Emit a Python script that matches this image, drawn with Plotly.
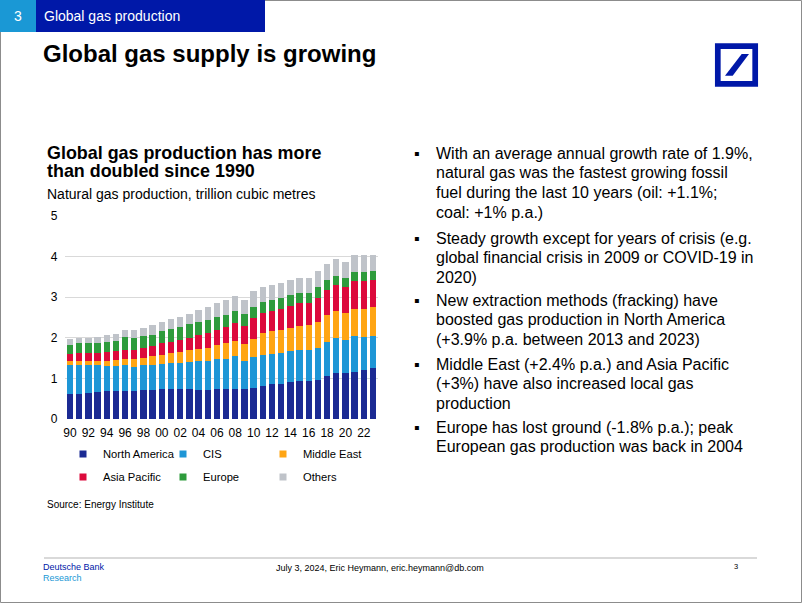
import plotly.graph_objects as go

W, H = 802, 603
FONT = "Arial, 'Liberation Sans', sans-serif"

years = list(range(1990, 2024))
tick_years = list(range(1990, 2023, 2))
tick_labels = [f"{y % 100:02d}" for y in tick_years]

north_america = [0.61, 0.61, 0.63, 0.66, 0.68, 0.68, 0.70, 0.70, 0.71, 0.71,
                 0.73, 0.75, 0.73, 0.73, 0.72, 0.71, 0.73, 0.75, 0.75, 0.75,
                 0.77, 0.82, 0.86, 0.87, 0.92, 0.94, 0.93, 0.96, 1.06, 1.14,
                 1.13, 1.15, 1.20, 1.25]
cis = [0.72, 0.72, 0.69, 0.66, 0.63, 0.63, 0.63, 0.59, 0.61, 0.63,
       0.63, 0.63, 0.66, 0.68, 0.70, 0.72, 0.74, 0.73, 0.80, 0.68,
       0.75, 0.75, 0.74, 0.76, 0.75, 0.76, 0.77, 0.80, 0.84, 0.86,
       0.81, 0.90, 0.82, 0.79]
middle_east = [0.10, 0.10, 0.11, 0.12, 0.13, 0.14, 0.15, 0.18, 0.18, 0.20,
               0.22, 0.24, 0.26, 0.28, 0.30, 0.33, 0.35, 0.38, 0.38, 0.41,
               0.46, 0.55, 0.56, 0.57, 0.58, 0.60, 0.61, 0.63, 0.65, 0.65,
               0.66, 0.67, 0.70, 0.71]
asia_pacific = [0.17, 0.19, 0.19, 0.18, 0.22, 0.22, 0.23, 0.23, 0.25, 0.26,
                0.28, 0.28, 0.29, 0.31, 0.34, 0.35, 0.38, 0.41, 0.43, 0.45,
                0.50, 0.48, 0.50, 0.50, 0.54, 0.56, 0.55, 0.59, 0.62, 0.66,
                0.65, 0.68, 0.68, 0.67]
europe = [0.22, 0.24, 0.24, 0.26, 0.24, 0.26, 0.30, 0.30, 0.29, 0.28,
          0.30, 0.32, 0.32, 0.33, 0.34, 0.32, 0.32, 0.30, 0.31, 0.29,
          0.28, 0.29, 0.27, 0.28, 0.26, 0.25, 0.25, 0.26, 0.25, 0.21,
          0.23, 0.21, 0.21, 0.22]
others = [0.16, 0.13, 0.13, 0.14, 0.17, 0.16, 0.18, 0.19, 0.20, 0.23,
          0.23, 0.24, 0.25, 0.25, 0.29, 0.32, 0.33, 0.36, 0.36, 0.36,
          0.39, 0.35, 0.38, 0.37, 0.37, 0.37, 0.37, 0.41, 0.41, 0.42,
          0.38, 0.42, 0.42, 0.41]

series_names = ["North America", "CIS", "Middle East", "Asia Pacific", "Europe", "Others"]
series_values = [north_america, cis, middle_east, asia_pacific, europe, others]
series_colors = ["#1B2A93", "#1E96D6", "#FFA514", "#DC0A3C", "#2E9B3C", "#BFC3C9"]
legend_ids = ["legend", "legend2", "legend3", "legend", "legend2", "legend3"]

bullets = [
    ["With an average annual growth rate of 1.9%,", "natural gas was the fastest growing fossil",
     "fuel during the last 10 years (oil: +1.1%;", "coal: +1% p.a.)"],
    ["Steady growth except for years of crisis (e.g.", "global financial crisis in 2009 or COVID-19 in",
     "2020)"],
    ["New extraction methods (fracking) have", "boosted gas production in North America",
     "(+3.9% p.a. between 2013 and 2023)"],
    ["Middle East (+2.4% p.a.) and Asia Pacific", "(+3%) have also increased local gas",
     "production"],
    ["Europe has lost ground (-1.8% p.a.); peak", "European gas production was back in 2004"],
]
bullet_first_y = [153, 238, 300, 364, 427]
LINE_STEP = 19.8


def px(x):
    return x / W


def py(y):
    return 1 - y / H


fig = go.Figure()
for name, vals, col in zip(series_names, series_values, series_colors):
    fig.add_trace(go.Bar(x=years, y=vals, name=name, marker=dict(color=col, line=dict(width=0)),
                         showlegend=False))
for name, col, lg in zip(series_names, series_colors, legend_ids):
    fig.add_trace(go.Scatter(x=[None], y=[None], mode="markers", name=name, legendgroup=name,
                             marker=dict(symbol="square", size=7, color=col),
                             legend=lg, showlegend=True))

shapes = []
shapes.append(dict(type="rect", xref="paper", yref="paper", x0=px(0.5), x1=px(801.5), y0=py(602.5), y1=py(0.5),
                   line=dict(color="#8C8C8C", width=1), fillcolor="rgba(0,0,0,0)", layer="below"))
shapes.append(dict(type="rect", xref="paper", yref="paper", x0=px(0), x1=px(36), y0=py(32), y1=py(0),
                   line=dict(width=0), fillcolor="#1A98D5"))
shapes.append(dict(type="rect", xref="paper", yref="paper", x0=px(36), x1=px(265), y0=py(32), y1=py(0),
                   line=dict(width=0), fillcolor="#0018A8"))
shapes.append(dict(type="rect", xref="paper", yref="paper", x0=px(717.8), x1=px(755.2), y0=py(83.8), y1=py(46.2),
                   line=dict(color="#0018A8", width=5.7), fillcolor="rgba(0,0,0,0)"))
shapes.append(dict(type="path", xref="paper", yref="paper",
                   path=f"M {px(725)} {py(75.7)} L {px(732.7)} {py(75.7)} L {px(749)} {py(54)} L {px(741.7)} {py(54)} Z",
                   line=dict(width=0), fillcolor="#0018A8"))
shapes.append(dict(type="line", xref="paper", yref="paper", x0=px(44), x1=px(757), y0=py(558), y1=py(558),
                   line=dict(color="#D9D9D9", width=2)))

ann = []


def text(x, y, s, size, color="#000000", bold=False, xanchor="left", yanchor="middle"):
    ann.append(dict(xref="paper", yref="paper", x=px(x), y=py(y), text=f"<b>{s}</b>" if bold else s,
                    showarrow=False, xanchor=xanchor, yanchor=yanchor, align="left", borderpad=0,
                    font=dict(family=FONT, size=size, color=color)))


text(18, 16, "3", 14, "#FFFFFF", xanchor="center")
text(43, 16, "Global gas production", 14, "#FFFFFF")
text(42, 53, "Global gas supply is growing", 24, bold=True)
text(46, 153, "Global gas production has more", 17.9, bold=True)
text(46, 171, "than doubled since 1990", 17.9, bold=True)
text(46, 194, "Natural gas production, trillion cubic metres", 14)
text(46, 504, "Source: Energy Institute", 10)
text(42, 567, "Deutsche Bank", 9, "#0018A8")
text(42, 578, "Research", 9, "#1A98D5")
text(275, 568, "July 3, 2024, Eric Heymann, eric.heymann@db.com", 9)
text(733, 566, "3", 7.5)

for y0, lines in zip(bullet_first_y, bullets):
    text(413, y0, "▪", 16)
    for i, line in enumerate(lines):
        text(435, y0 + i * LINE_STEP, line, 16)

legend_common = dict(orientation="v", xanchor="left", yanchor="middle", itemwidth=30,
                     bgcolor="rgba(0,0,0,0)", traceorder="grouped", tracegroupgap=4,
                     font=dict(family=FONT, size=11.2, color="#000000"))

fig.update_layout(
    width=W, height=H,
    margin=dict(l=0, r=0, t=0, b=0, pad=0, autoexpand=False),
    paper_bgcolor="#FFFFFF", plot_bgcolor="#FFFFFF",
    barmode="stack", bargap=0.31,
    font=dict(family=FONT, color="#000000"),
    xaxis=dict(domain=[px(65.4), px(377.6)], range=[1989.5, 2023.5], tickvals=tick_years,
               ticktext=tick_labels, showgrid=False, zeroline=False, showline=False, ticks="",
               automargin=False, ticklabelstandoff=5, tickfont=dict(size=12, color="#000000"),
               fixedrange=True),
    yaxis=dict(domain=[py(419), py(216)], range=[0, 5], dtick=1, showgrid=True, gridcolor="#D9D9D9",
               gridwidth=1, zeroline=False, showline=False, ticks="", ticklabelstandoff=7,
               automargin=False, tickfont=dict(size=12, color="#000000"), fixedrange=True),
    legend=dict(x=px(63), y=py(465.5), **legend_common),
    legend2=dict(x=px(163), y=py(465.5), **legend_common),
    legend3=dict(x=px(263), y=py(465.5), **legend_common),
    shapes=shapes,
    annotations=ann,
)

fig.write_html(
    "out.html",
    config={"displayModeBar": False},
    post_script=("document.documentElement.style.margin='0';document.body.style.margin='0';"
                 "document.body.style.padding='0';document.body.style.overflow='hidden';"
                 "document.documentElement.style.overflow='hidden';"
                 "var gd=document.getElementById('{plot_id}');gd.style.position='fixed';"
                 "gd.style.top='0px';gd.style.left='0px';"),
)
